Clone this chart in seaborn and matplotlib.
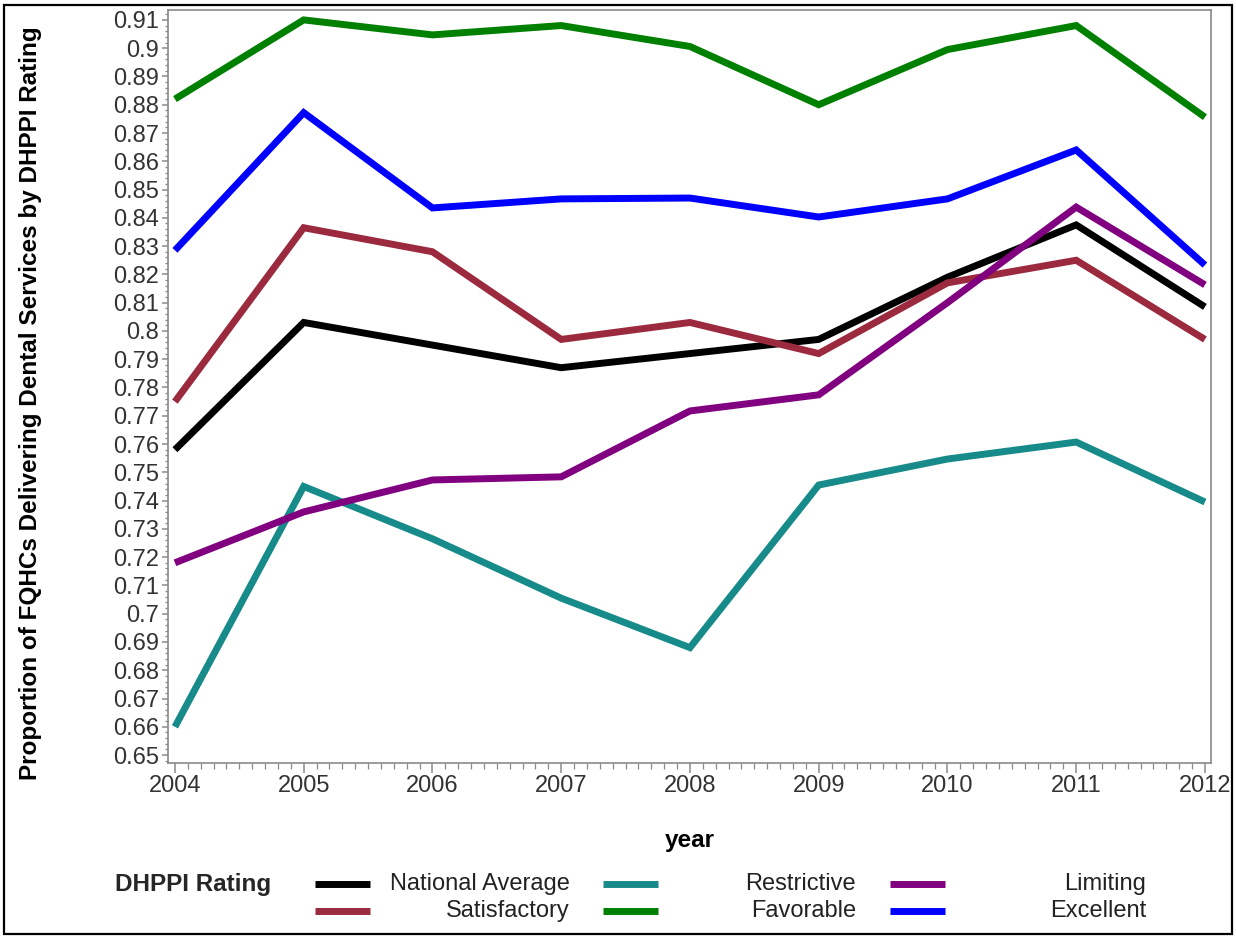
import numpy as np
import pandas as pd
import matplotlib
matplotlib.use("Agg")
import matplotlib.pyplot as plt
from matplotlib.lines import Line2D
from matplotlib.patches import Rectangle
from matplotlib.ticker import MultipleLocator, FixedLocator
import seaborn as sns

# ---------------- data ----------------
years = [2004, 2005, 2006, 2007, 2008, 2009, 2010, 2011, 2012]
national_average = [0.758, 0.803, 0.795, 0.787, 0.792, 0.797, 0.819, 0.8375, 0.8085]
satisfactory     = [0.775, 0.8365, 0.828, 0.797, 0.803, 0.792, 0.817, 0.825, 0.797]
restrictive      = [0.660, 0.745, 0.7265, 0.7055, 0.688, 0.7455, 0.7547, 0.7607, 0.7395]
favorable        = [0.882, 0.910, 0.9047, 0.908, 0.9006, 0.880, 0.8995, 0.908, 0.8756]
limiting         = [0.718, 0.736, 0.7473, 0.7484, 0.7717, 0.7774, 0.810, 0.8438, 0.8163]
excellent        = [0.8285, 0.8772, 0.8435, 0.8467, 0.847, 0.8403, 0.8467, 0.864, 0.8233]

series_names = ["National Average", "Satisfactory", "Restrictive",
                "Favorable", "Limiting", "Excellent"]
series_vals = [national_average, satisfactory, restrictive,
               favorable, limiting, excellent]
colors = ["#000000", "#9C2A3E", "#178A8A", "#008000", "#800080", "#0000FF"]
y_ticks = [0.65, 0.66, 0.67, 0.68, 0.69, 0.70, 0.71, 0.72, 0.73, 0.74, 0.75, 0.76,
           0.77, 0.78, 0.79, 0.80, 0.81, 0.82, 0.83, 0.84, 0.85, 0.86, 0.87, 0.88,
           0.89, 0.90, 0.91]

rows = []
for name, vals in zip(series_names, series_vals):
    for yr, v in zip(years, vals):
        rows.append({"year": yr, "value": v, "rating": name})
df = pd.DataFrame(rows)
palette = dict(zip(series_names, colors))

# ---------------- style ----------------
sns.set_style("ticks")
plt.rcParams["font.family"] = ["Liberation Sans", "DejaVu Sans"]

fig = plt.figure(figsize=(12.36, 9.40), dpi=100)
ax = fig.add_axes([168 / 1236, 1 - 763 / 940, (1211 - 168) / 1236, (763 - 10) / 940])

sns.lineplot(data=df, x="year", y="value", hue="rating", hue_order=series_names,
             palette=palette, linewidth=5.0, ax=ax, legend=False,
             solid_capstyle="butt", solid_joinstyle="miter")

ax.set_xlim(2003.946, 2012.047)
ax.set_ylim(0.6472, 0.9135)

ax.xaxis.set_major_locator(FixedLocator(years))
ax.xaxis.set_minor_locator(MultipleLocator(0.1))
ax.yaxis.set_major_locator(FixedLocator(y_ticks))
ax.yaxis.set_minor_locator(MultipleLocator(0.002))
ax.set_xticklabels([str(y) for y in years])
ax.set_yticklabels([f"{t:g}" for t in y_ticks])

spine_col = "#8a8a8a"
for s in ax.spines.values():
    s.set_color(spine_col)
    s.set_linewidth(1.2)
ax.tick_params(axis="both", which="both", colors=spine_col, labelcolor="#333333")
ax.tick_params(axis="x", which="major", length=7, width=1.1, labelsize=17, pad=2)
ax.tick_params(axis="x", which="minor", length=4, width=0.9)
ax.tick_params(axis="y", which="major", length=4.5, width=1.1, labelsize=17, pad=2)
ax.tick_params(axis="y", which="minor", length=2.5, width=0.9)

ax.set_xlabel("year", fontsize=17.5, fontweight="bold", color="#000000")
ax.set_ylabel("Proportion of FQHCs Delivering Dental Services by DHPPI Rating",
              fontsize=17.5, fontweight="bold", color="#000000")
ax.xaxis.set_label_coords(0.5, -0.088)
ax.yaxis.set_label_coords(-0.121, 0.478)

# ---------------- legend (manual, right-aligned labels) ----------------
W, H = 1236.0, 940.0
def fx(px):
    return px / W
def fy(py):
    return 1 - py / H

fig.text(fx(115), fy(884), "DHPPI Rating", fontsize=17.5, fontweight="bold",
         ha="left", va="center")
handle_x = [(315, 370), (603, 658), (890, 945)]
label_right = [570, 856, 1146]
row_y = [884, 911]
layout = [("National Average", 0, 0), ("Restrictive", 0, 1), ("Limiting", 0, 2),
          ("Satisfactory", 1, 0), ("Favorable", 1, 1), ("Excellent", 1, 2)]
for name, r, c in layout:
    x0, x1 = handle_x[c]
    fig.add_artist(Line2D([fx(x0), fx(x1)], [fy(row_y[r]), fy(row_y[r])],
                          color=palette[name], linewidth=5.0,
                          solid_capstyle="butt", transform=fig.transFigure))
    fig.text(fx(label_right[c]), fy(row_y[r]), name, fontsize=17,
             ha="right", va="center", color="#222222")

# outer frame
fig.add_artist(Rectangle((fx(4), fy(934)), fx(1232) - fx(4), fy(5) - fy(934),
                         transform=fig.transFigure, fill=False,
                         edgecolor="#000000", linewidth=1.6))

fig.savefig("out.png", dpi=100)
